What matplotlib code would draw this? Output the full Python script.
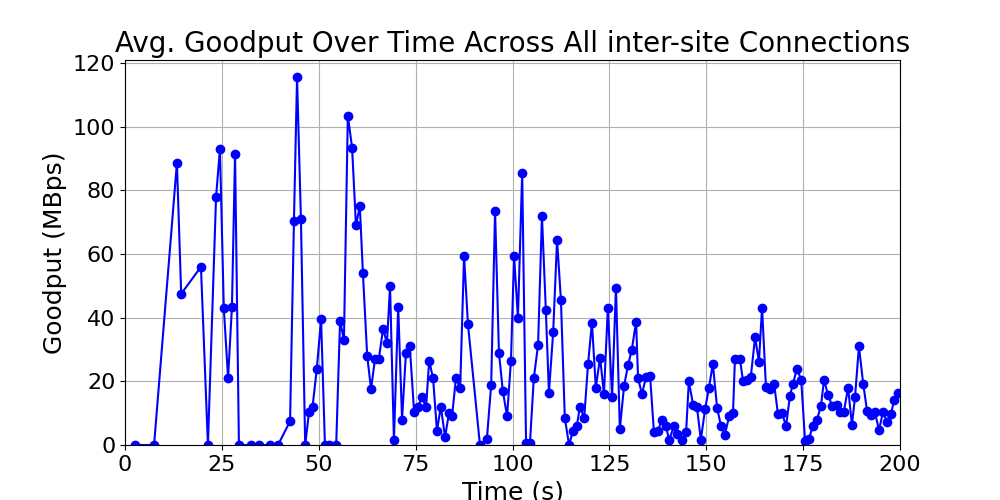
import matplotlib
matplotlib.use("Agg")
import matplotlib.pyplot as plt

time_s = [2.6, 7.5, 13.4, 14.5, 19.6, 21.4, 23.5, 24.5, 25.5, 26.6, 27.6, 28.4, 29.4, 32.5, 34.6, 37.4, 39.5,
          42.6, 43.6, 44.4, 45.4, 46.5, 47.5, 48.4, 49.5, 50.6, 51.6, 52.6, 54.5, 55.5, 56.5, 57.5, 58.6, 59.6,
          60.6, 61.4, 62.5, 63.5, 64.5, 65.5, 66.6, 67.6, 68.4, 69.4, 70.5, 71.5, 72.5, 73.5, 74.6, 75.6, 76.6,
          77.7, 78.5, 79.5, 80.5, 81.5, 82.6, 83.6, 84.4, 85.4, 86.5, 87.5, 88.5, 91.6, 93.4, 94.5, 95.5, 96.5,
          97.5, 98.6, 99.6, 100.4, 101.4, 102.5, 103.5, 104.5, 105.5, 106.6, 107.6, 108.6, 109.4, 110.5, 111.5,
          112.5, 113.5, 114.6, 115.6, 116.6, 117.4, 118.5, 119.5, 120.5, 121.5, 122.6, 123.6, 124.6, 125.7,
          126.7, 127.7, 128.8, 129.8, 130.8, 131.9, 132.4, 133.4, 134.5, 135.5, 136.5, 137.5, 138.6, 139.6,
          140.4, 141.7, 142.5, 143.7, 144.8, 145.5, 146.6, 147.6, 148.6, 149.7, 150.7, 151.7, 152.8, 153.8,
          154.8, 155.9, 156.9, 157.4, 158.7, 159.5, 160.5, 161.5, 162.6, 163.6, 164.4, 165.4, 166.5, 167.5,
          168.5, 169.5, 170.6, 171.6, 172.4, 173.4, 174.5, 175.5, 176.5, 177.5, 178.6, 179.6, 180.4, 181.4,
          182.5, 183.7, 184.5, 185.5, 186.6, 187.6, 188.4, 189.4, 190.5, 191.5, 192.5, 193.5, 194.6, 195.6,
          196.6, 197.7, 198.5, 199.5]
goodput = [0, 0, 88.7, 47.5, 56, 0, 78, 93, 43, 21, 43.5, 91.5, 0, 0, 0, 0, 0,
           7.5, 70.5, 115.5, 71, 0, 10.5, 12, 24, 39.5, 0, 0, 0, 39, 33, 103.5, 93.5, 69,
           75, 54, 28, 17.5, 27, 27, 36.5, 32, 50, 1.5, 43.5, 8, 29, 31, 10.5, 12, 15,
           12, 26.5, 21, 4.5, 12, 2.5, 10, 9, 21, 18, 59.5, 38, 0, 2, 19, 73.5, 29,
           17, 9, 26.5, 59.5, 40, 85.5, 0.5, 0.5, 21, 31.5, 72, 42.5, 16.5, 35.5, 64.5,
           45.5, 8.5, 0, 4.5, 6, 12, 8.5, 25.5, 38.5, 18, 27.5, 16, 43, 15,
           49.5, 5, 18.6, 25, 30, 38.8, 21, 16, 21.5, 21.8, 4, 4.5, 8, 6,
           1.6, 6, 3.5, 1.6, 4, 20, 12.7, 12, 1.6, 11.3, 18, 25.5, 11.7, 6,
           3.2, 9, 10, 27, 27, 20, 20.5, 21.5, 33.8, 26.2, 43.2, 18.3, 17.6, 19.3,
           9.8, 10.1, 6, 15.5, 19.3, 24, 20.5, 1.3, 1.9, 6, 8, 12.3, 20.5, 15.8,
           12.3, 12.6, 10.4, 10.4, 18, 6.3, 15.2, 31, 19.3, 10.7, 9.5, 10.4, 4.7, 10.4,
           7.3, 9.8, 14.2, 16.4]

fig, ax = plt.subplots(figsize=(10, 5), dpi=100)
ax.plot(time_s, goodput, color="blue", marker="o", markersize=6, linewidth=1.5)
ax.set_xlim(0, 200)
ax.set_ylim(0, 121)
ax.set_title("Avg. Goodput Over Time Across All inter-site Connections", fontsize=20)
ax.set_xlabel("Time (s)", fontsize=18)
ax.set_ylabel("Goodput (MBps)", fontsize=18)
ax.tick_params(labelsize=16)
ax.grid(True)
fig.savefig("out.png")
